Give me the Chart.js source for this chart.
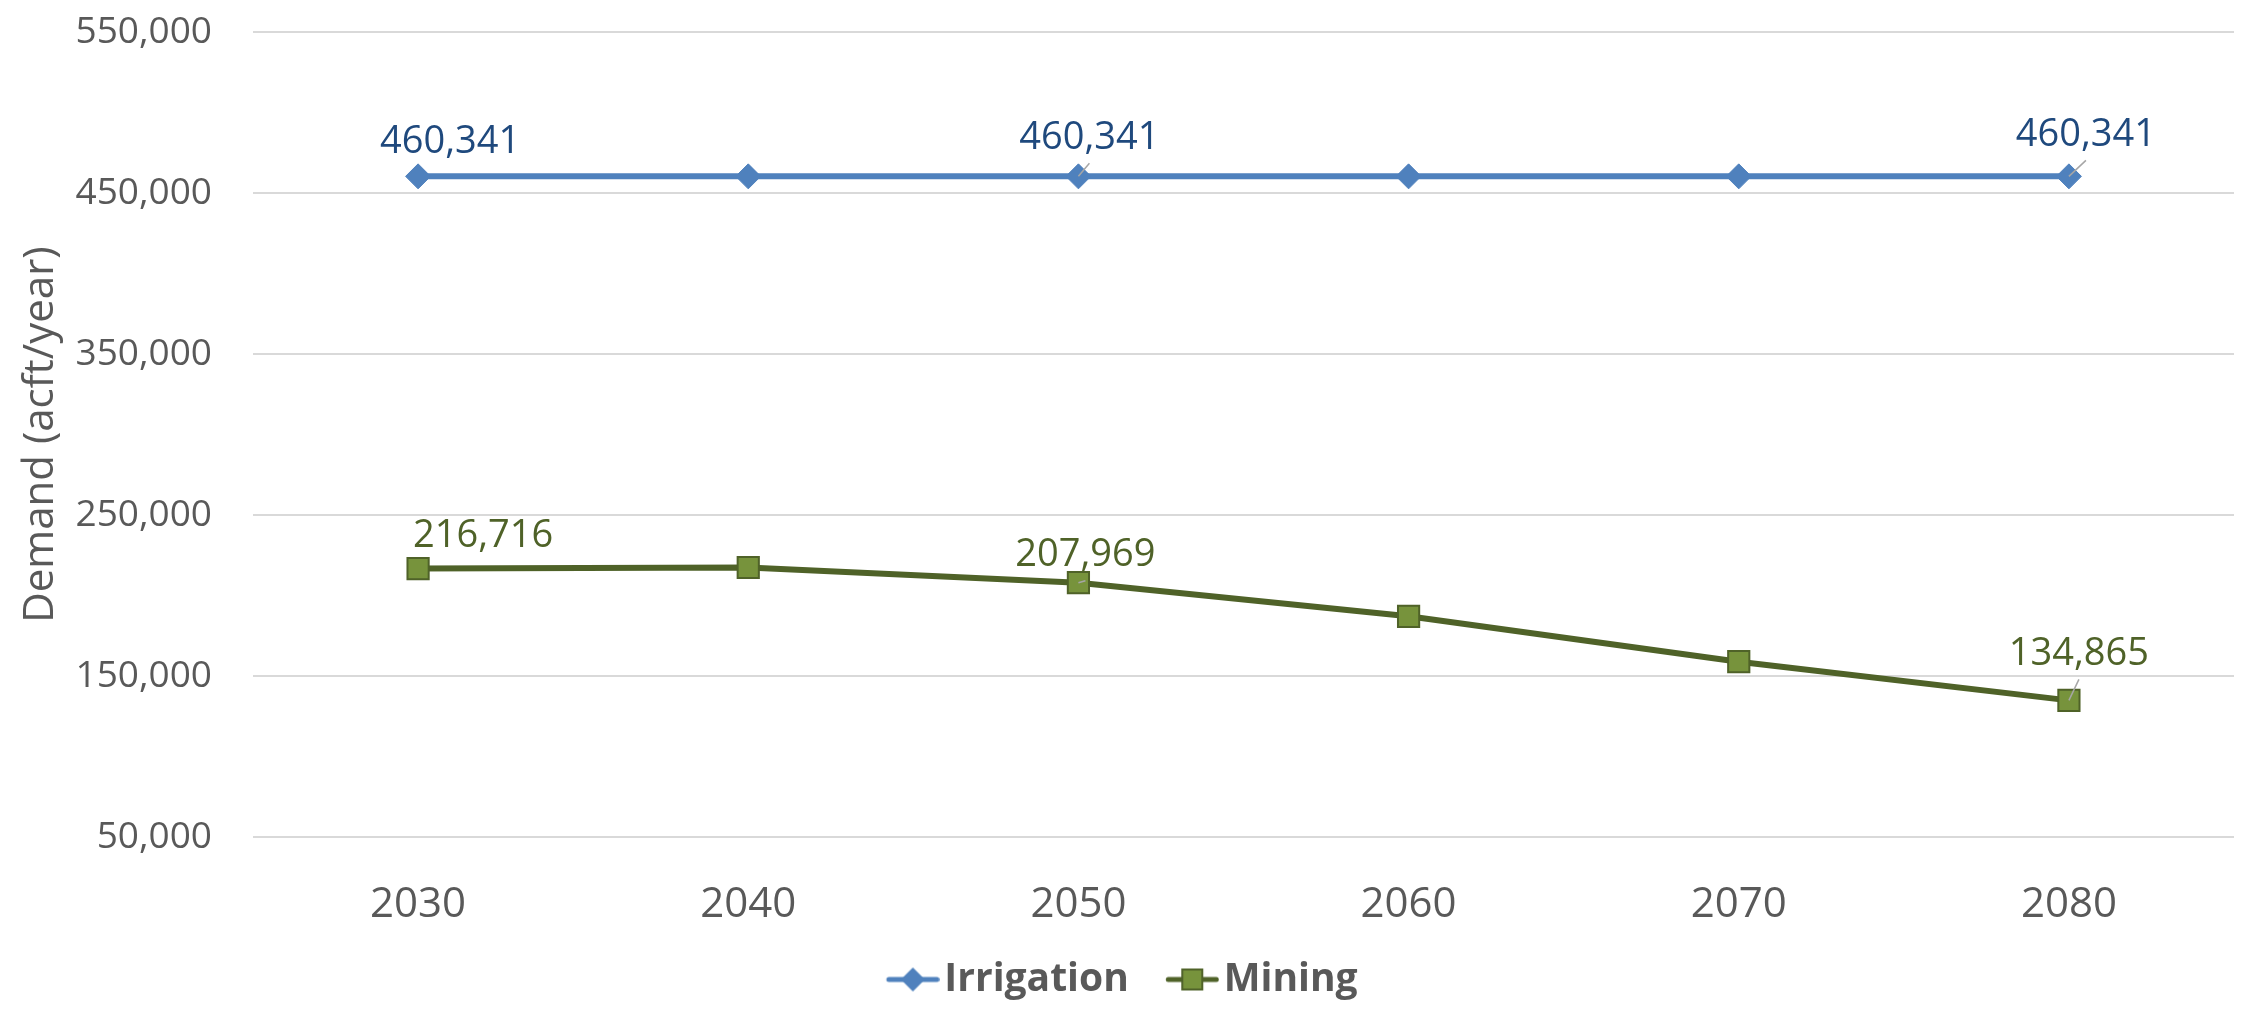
<!DOCTYPE html>
<html>
<head>
<meta charset="utf-8">
<title>Irrigation and Mining Demand</title>
<script src="https://cdn.jsdelivr.net/npm/chart.js@4.4.1/dist/chart.umd.min.js"></script>
<style>
  html, body { margin: 0; padding: 0; background: #ffffff; }
  #wrap { width: 2241px; height: 1009px; position: relative; }
</style>
</head>
<body>
<div id="wrap"><canvas id="demand-chart"></canvas></div>
<script>
// Chart data
const decades = ['2030', '2040', '2050', '2060', '2070', '2080'];
const irrigation = [460341, 460341, 460341, 460341, 460341, 460341];
const mining = [216716, 217400, 207969, 187100, 158900, 134865];
const yTicks = [50000, 150000, 250000, 350000, 450000, 550000];
const labelledDecades = ['2030', '2050', '2080'];

const GREY_TEXT = '#595959';
const FONT = "'Open Sans', sans-serif";

// Where each value label sits relative to its point (label centre)
const labelOffsets = {
  Irrigation: { '2030': [32, -37], '2050': [11, -41], '2080': [17, -44] },
  Mining: { '2030': [65, -35], '2050': [7, -30], '2080': [10, -49] }
};
// Labels that were dragged away and got a leader line
const leaderLines = {
  Irrigation: ['2050', '2080'],
  Mining: ['2050', '2080']
};

// Line + marker glyph for the legend, Excel style
function legendGlyph(ds) {
  const c = document.createElement('canvas');
  c.width = 78;
  c.height = 30;
  const g = c.getContext('2d');
  const gx = 24.75;       // glyph starts here, left part stays transparent
  const cy = 15;
  const mx = gx + 26.5;
  g.strokeStyle = ds.borderColor;
  g.lineWidth = 5;
  g.lineCap = 'round';
  g.beginPath();
  g.moveTo(gx + 2.5, cy);
  g.lineTo(gx + 50.5, cy);
  g.stroke();
  g.fillStyle = ds.pointBackgroundColor;
  g.strokeStyle = ds.pointBorderColor;
  g.lineWidth = 2;
  if (ds.pointStyle === 'rectRot') {
    g.beginPath();
    g.moveTo(mx - 12, cy);
    g.lineTo(mx, cy - 12);
    g.lineTo(mx + 12, cy);
    g.lineTo(mx, cy + 12);
    g.closePath();
    g.fill();
  } else {
    g.fillRect(mx - 10, cy - 10, 20, 20);
    g.strokeRect(mx - 10, cy - 10, 20, 20);
  }
  return c;
}

// Value labels and leader lines
const valueLabels = {
  id: 'valueLabels',
  afterDatasetsDraw(chart) {
    const ctx = chart.ctx;
    chart.data.datasets.forEach((ds, di) => {
      if (!chart.isDatasetVisible(di)) return;
      const meta = chart.getDatasetMeta(di);
      labelledDecades.forEach(year => {
        const i = decades.indexOf(year);
        const pt = meta.data[i];
        const [dx, dy] = labelOffsets[ds.label][year];
        const lx = pt.x + dx;
        const ly = pt.y + dy;
        ctx.save();
        if (leaderLines[ds.label].includes(year)) {
          ctx.strokeStyle = '#A6A6A6';
          ctx.lineWidth = 1.5;
          ctx.beginPath();
          ctx.moveTo(pt.x, pt.y);
          ctx.lineTo(lx, ly + 28);
          ctx.stroke();
        }
        ctx.font = '38px ' + FONT;
        ctx.fillStyle = ds.labelColor;
        ctx.textAlign = 'center';
        ctx.textBaseline = 'alphabetic';
        ctx.fillText(ds.data[i].toLocaleString('en-US'), lx, ly + 13.5);
        ctx.restore();
      });
    });
  }
};

function initDemandChart() {
  const ctx = document.getElementById('demand-chart').getContext('2d');

  new Chart(ctx, {
    type: 'line',
    data: {
      labels: decades,
      datasets: [{
        label: 'Irrigation',
        data: irrigation,
        borderColor: '#4F81BD',
        borderWidth: 6,
        pointStyle: 'rectRot',
        pointRadius: 12.5,
        pointHoverRadius: 12.5,
        pointBackgroundColor: '#4F81BD',
        pointBorderColor: '#4F81BD',
        pointBorderWidth: 1,
        labelColor: '#1F497D',
        tension: 0
      }, {
        label: 'Mining',
        data: mining,
        borderColor: '#4F6228',
        borderWidth: 6,
        pointStyle: 'rect',
        pointRadius: 15,
        pointHoverRadius: 15,
        pointBackgroundColor: '#77933C',
        pointBorderColor: '#4F6228',
        pointBorderWidth: 2,
        labelColor: '#4F6228',
        tension: 0
      }]
    },
    options: {
      responsive: true,
      maintainAspectRatio: false,
      devicePixelRatio: 1,
      animation: false,
      // markers sit well inside the plot, so no automatic room for them
      layout: { autoPadding: false, padding: { top: 32, right: 7, bottom: 0, left: 0 } },
      plugins: {
        tooltip: { enabled: false },
        legend: {
          position: 'bottom',
          labels: {
            usePointStyle: true,
            pointStyleWidth: 48.5,
            padding: 27,
            color: GREY_TEXT,
            font: { family: FONT, size: 39, weight: 'bold', lineHeight: 1 },
            generateLabels(chart) {
              return chart.data.datasets.map((ds, i) => ({
                text: ds.label,
                fillStyle: ds.borderColor,
                strokeStyle: ds.borderColor,
                lineWidth: 0,
                fontColor: GREY_TEXT,
                pointStyle: legendGlyph(ds),
                hidden: !chart.isDatasetVisible(i),
                datasetIndex: i
              }));
            }
          }
        }
      },
      scales: {
        x: {
          offset: true,
          afterFit: s => { s.height = 96; },
          // hidden tick length instead of label padding, so no side padding is added
          grid: { display: false, drawTicks: true, tickLength: 43 },
          border: { display: false },
          ticks: { color: GREY_TEXT, font: { family: FONT, size: 42 }, padding: 0, maxRotation: 0 }
        },
        y: {
          min: 50000,
          max: 550000,
          afterBuildTicks: s => { s.ticks = yTicks.map(v => ({ value: v })); },
          afterFit: s => { s.width = 253; },
          // invisible tick marks keep the labels off the plot without padding the top
          grid: { color: '#D9D9D9', lineWidth: 2, drawTicks: true, tickLength: 41, tickColor: 'rgba(0,0,0,0)' },
          border: { display: false },
          ticks: {
            color: GREY_TEXT,
            font: { family: FONT, size: 37 },
            padding: 0,
            callback: v => v.toLocaleString('en-US')
          },
          title: {
            display: true,
            text: 'Demand (acft/year)',
            color: GREY_TEXT,
            font: { family: FONT, size: 42 },
            padding: { top: 16, bottom: 0 }
          }
        }
      }
    },
    plugins: [valueLabels]
  });
}

// Installed fonts still have to be loaded before canvas text uses them
Promise.all([
  document.fonts.load("38px 'Open Sans'"),
  document.fonts.load("bold 39px 'Open Sans'")
]).catch(() => {}).then(initDemandChart);
</script>
</body>
</html>
